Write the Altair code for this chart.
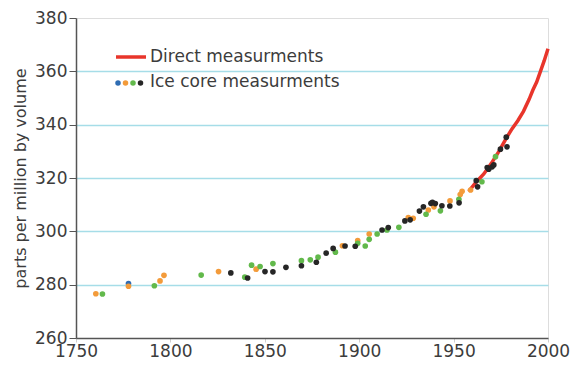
import altair as alt
import pandas as pd

# ---- data ----
blue_year = [1777.8]
blue_ppm = [280.4]

orange_year = [1760.5, 1777.8, 1794.5, 1796.6, 1825.5, 1845.4, 1891.1, 1899.2, 1905.3,
               1926.0, 1928.6, 1936.6, 1939.6, 1948.1, 1953.5, 1954.5, 1959.0]
orange_ppm = [276.6, 279.4, 281.4, 283.5, 284.9, 285.8, 294.6, 296.5, 299.0,
              305.2, 304.9, 308.0, 309.2, 311.4, 313.8, 315.0, 315.5]

green_year = [1764.0, 1791.5, 1816.3, 1839.4, 1843.0, 1847.5, 1854.3, 1869.4, 1874.1,
              1878.2, 1887.4, 1899.2, 1903.2, 1905.3, 1909.5, 1914.7, 1921.0, 1935.4,
              1943.0, 1952.8, 1965.0, 1972.2]
green_ppm = [276.5, 279.6, 283.6, 282.8, 287.3, 286.8, 287.9, 289.0, 289.3,
             290.3, 292.2, 295.5, 294.5, 297.0, 299.0, 300.5, 301.5, 306.4,
             307.7, 312.0, 318.6, 328.0]

black_year = [1832.0, 1840.9, 1850.1, 1854.3, 1861.2, 1869.4, 1877.3, 1882.5, 1886.2,
              1892.5, 1897.9, 1912.1, 1915.4, 1924.2, 1927.0, 1931.9, 1934.0, 1938.0,
              1938.8, 1940.3, 1943.8, 1948.0, 1952.9, 1962.0, 1962.7, 1967.8, 1968.6,
              1970.4, 1971.3, 1974.8, 1977.9, 1978.3]
black_ppm = [284.4, 282.5, 284.9, 284.8, 286.5, 287.1, 288.4, 291.8, 293.6,
             294.5, 294.4, 300.5, 301.4, 303.9, 304.3, 307.6, 309.2, 310.5,
             310.9, 310.4, 309.6, 309.5, 310.7, 319.0, 316.7, 323.9, 323.3,
             324.2, 324.9, 330.8, 335.3, 331.7]

direct_year = [1958, 1962, 1966, 1970, 1974, 1978, 1981, 1984, 1987, 1990, 1992, 1994, 1996, 1998, 2000]
direct_ppm = [315.0, 318.5, 321.5, 325.5, 330.0, 335.0, 338.5, 341.5, 345.0, 349.5, 353.0, 356.0, 360.0, 364.0, 368.5]

series_names = ["blue", "orange", "green", "black"]
series_colors = ["#2f6db3", "#f39b3a", "#62b94b", "#262626"]

x_ticks = [1750, 1800, 1850, 1900, 1950, 2000]
y_ticks = [260, 280, 300, 320, 340, 360, 380]

FONT = "DejaVu Sans"
TEXT = "#3c3c3c"

rows = []
for name, ys, ps in [("blue", blue_year, blue_ppm), ("orange", orange_year, orange_ppm),
                     ("green", green_year, green_ppm), ("black", black_year, black_ppm)]:
    for y, p in zip(ys, ps):
        rows.append({"year": y, "ppm": p, "series": name})
ice = pd.DataFrame(rows)
direct = pd.DataFrame({"year": direct_year, "ppm": direct_ppm})

xscale = alt.Scale(domain=[1750, 2000], nice=False, zero=False)
yscale = alt.Scale(domain=[260, 380], nice=False, zero=False)

xaxis = alt.Axis(values=x_ticks, format="d", title=None, grid=False,
                 labelFont=FONT, labelFontSize=17, labelColor=TEXT, labelPadding=1,
                 tickSize=4, tickColor="#cfcfcf", domainColor="#555555", domainWidth=1.5,
                 labelFlush=False)
yaxis = alt.Axis(values=y_ticks, title="parts per million by volume",
                 titleFont=FONT, titleFontSize=16, titleFontWeight="normal", titleColor=TEXT,
                 titlePadding=6,
                 labelFont=FONT, labelFontSize=17, labelColor=TEXT, labelPadding=2,
                 tickSize=7, tickColor="#555555", domainColor="#555555", domainWidth=1.5,
                 grid=True, gridColor="#a6dde8", gridWidth=1.5,
                 gridOpacity=alt.condition("datum.value == 260 || datum.value == 380",
                                           alt.value(0), alt.value(1)))

line = alt.Chart(direct).mark_line(color="#e8352b", strokeWidth=3.5).encode(
    x=alt.X("year:Q", scale=xscale, axis=xaxis),
    y=alt.Y("ppm:Q", scale=yscale, axis=yaxis),
)

points = alt.Chart(ice).mark_circle(size=32, opacity=1).encode(
    x=alt.X("year:Q", scale=xscale),
    y=alt.Y("ppm:Q", scale=yscale),
    color=alt.Color("series:N", scale=alt.Scale(domain=series_names, range=series_colors), legend=None),
)

one = alt.Data(values=[{}])
leg_line = alt.Chart(one).mark_rule(color="#e8352b", strokeWidth=3.5).encode(
    x=alt.value(40), x2=alt.value(70), y=alt.value(39))
leg_t1 = alt.Chart(one).mark_text(align="left", baseline="middle", font=FONT, fontSize=17,
                                  color=TEXT).encode(x=alt.value(74), y=alt.value(39),
                                                     text=alt.value("Direct measurments"))
leg_t2 = alt.Chart(one).mark_text(align="left", baseline="middle", font=FONT, fontSize=17,
                                  color=TEXT).encode(x=alt.value(74), y=alt.value(64),
                                                     text=alt.value("Ice core measurments"))
leg_dots = []
for i, c in enumerate(series_colors):
    leg_dots.append(alt.Chart(one).mark_circle(size=30, opacity=1, color=c).encode(
        x=alt.value(42 + 7.5 * i), y=alt.value(65)))

chart = alt.layer(line, points, leg_line, leg_t1, leg_t2, *leg_dots).properties(
    width=472, height=320,
    autosize=alt.AutoSizeParams(type="none"),
    padding={"left": 68, "top": 10, "right": 22, "bottom": 22},
).configure_view(stroke="#9a9a9a", strokeWidth=1.5).configure(background="white")

chart.save("out.html", embed_options={"renderer": "svg", "actions": False})
